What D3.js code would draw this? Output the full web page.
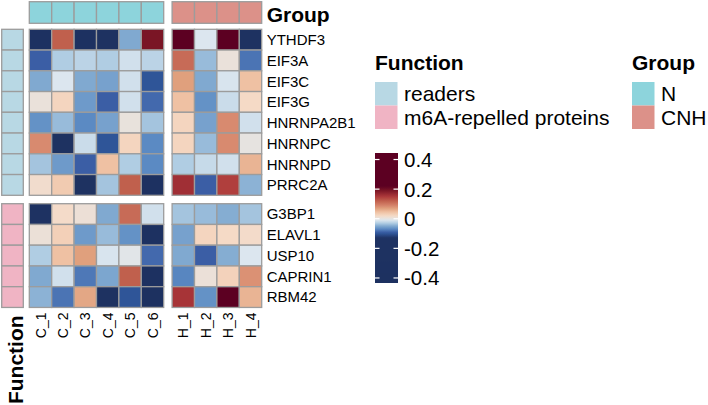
<!DOCTYPE html>
<html>
<head>
<meta charset="utf-8">
<script src="https://cdn.jsdelivr.net/npm/d3@7"></script>
<style>
  body { margin: 0; background: #fff; }
  svg { display: block; font-family: Arial, "Liberation Sans", sans-serif; }
</style>
</head>
<body>
<svg id="chart" width="708" height="405"></svg>
<script>
// samples (columns) and their group
const colsN = ['C_1', 'C_2', 'C_3', 'C_4', 'C_5', 'C_6'];
const colsCNH = ['H_1', 'H_2', 'H_3', 'H_4'];
const groups = ['N', 'CNH'];

// genes (rows) and their function
const rowsReaders = ['YTHDF3', 'EIF3A', 'EIF3C', 'EIF3G', 'HNRNPA2B1', 'HNRNPC', 'HNRNPD', 'PRRC2A'];
const rowsRepelled = ['G3BP1', 'ELAVL1', 'USP10', 'CAPRIN1', 'RBM42'];
const functions = ['readers', 'm6A-repelled proteins'];

// values, one array per gene, columns C_1..C_6, H_1..H_4
const YTHDF3    = [-0.32, 0.12, -0.30, -0.28, -0.05, 0.19, 0.38, -0.01, 0.40, -0.22];
const EIF3A     = [-0.09, -0.03, -0.025, -0.03, -0.015, -0.025, 0.11, -0.04, 0.005, -0.08];
const EIF3C     = [-0.05, -0.01, -0.05, -0.055, -0.015, -0.10, 0.07, -0.05, -0.012, 0.045];
const EIF3G     = [0.005, 0.025, -0.06, -0.09, -0.015, -0.085, 0.045, -0.065, -0.018, 0.02];
const HNRNPA2B1 = [-0.065, -0.04, -0.07, -0.055, 0.003, -0.035, 0.025, -0.055, 0.085, -0.015];
const HNRNPC    = [0.085, -0.27, -0.018, -0.10, 0.025, -0.07, 0.025, -0.04, 0.085, 0.0];
const HNRNPD    = [-0.035, -0.06, -0.09, 0.045, -0.03, -0.07, -0.03, -0.02, -0.015, 0.055];
const PRRC2A    = [0.015, 0.035, -0.25, -0.035, 0.12, -0.30, 0.16, -0.09, 0.145, -0.045];
const G3BP1     = [-0.20, 0.018, 0.008, -0.05, 0.11, -0.015, -0.035, -0.04, -0.048, -0.035];
const ELAVL1    = [0.007, 0.03, -0.06, -0.04, -0.065, -0.35, -0.055, 0.025, 0.02, 0.017];
const USP10     = [-0.03, 0.045, 0.07, -0.012, -0.005, -0.085, -0.05, -0.09, -0.048, -0.01];
const CAPRIN1   = [-0.05, -0.015, -0.078, -0.052, 0.12, -0.30, -0.072, 0.006, 0.028, 0.08];
const RBM42     = [-0.045, -0.08, 0.065, -0.28, -0.10, -0.40, 0.155, -0.065, 0.42, 0.055];

const legendTicks = [0.4, 0.2, 0, -0.2, -0.4];

const values = { YTHDF3, EIF3A, EIF3C, EIF3G, HNRNPA2B1, HNRNPC, HNRNPD, PRRC2A,
                 G3BP1, ELAVL1, USP10, CAPRIN1, RBM42 };
const allCols = colsN.concat(colsCNH);

const svg = d3.select('#chart');
const border = '#9c9c9c';

// colour ramp (pheatmap style, saturates early)
const colour = d3.scaleLinear()
  .domain([-0.45, -0.13, -0.10, -0.09, -0.07, -0.05, -0.03, -0.01, 0, 0.02, 0.045, 0.07, 0.09, 0.12, 0.15, 0.19, 0.22, 0.45])
  .range(['#1d3160', '#1e3262', '#2f5598', '#3b5ea5', '#5b8ac3', '#80a9d0', '#b0cde3', '#dce6ef', '#e6e3e0',
          '#f5dac6', '#efc1a3', '#e0a07d', '#d5826a', '#c0604d', '#ad383a', '#7a1525', '#5c0022', '#5c0022'])
  .clamp(true);

const groupColour = d3.scaleOrdinal().domain(groups).range(['#8dd4dc', '#dc9189']);
const funcColour = d3.scaleOrdinal().domain(functions).range(['#b8d8e4', '#f0b4c4']);

// layout
const cw = 22.4, ch = 20.75, gap = 8.4;
const x0 = 29.3, y0 = 29.3;

const xN = d3.scaleBand().domain(colsN).range([x0, x0 + colsN.length * cw]);
const xH = d3.scaleBand().domain(colsCNH).range([xN.range()[1] + gap, xN.range()[1] + gap + colsCNH.length * cw]);
const yR = d3.scaleBand().domain(rowsReaders).range([y0, y0 + rowsReaders.length * ch]);
const yM = d3.scaleBand().domain(rowsRepelled).range([yR.range()[1] + gap, yR.range()[1] + gap + rowsRepelled.length * ch]);

const xPos = c => colsN.includes(c) ? xN(c) : xH(c);
const yPos = r => rowsReaders.includes(r) ? yR(r) : yM(r);
const colGroup = c => colsN.includes(c) ? 'N' : 'CNH';
const rowFunc = r => rowsReaders.includes(r) ? 'readers' : 'm6A-repelled proteins';

const rows = rowsReaders.concat(rowsRepelled);
const cells = [];
rows.forEach(r => allCols.forEach((c, i) => cells.push({ r, c, v: values[r][i] })));

// heatmap cells
svg.append('g').selectAll('rect').data(cells).enter().append('rect')
  .attr('x', d => xPos(d.c))
  .attr('y', d => yPos(d.r))
  .attr('width', cw)
  .attr('height', ch)
  .attr('fill', d => colour(d.v))
  .attr('stroke', border)
  .attr('stroke-width', 1.3);

// column annotation (Group)
svg.append('g').selectAll('rect').data(allCols).enter().append('rect')
  .attr('x', d => xPos(d))
  .attr('y', 1.7)
  .attr('width', cw)
  .attr('height', 21.6)
  .attr('fill', d => groupColour(colGroup(d)))
  .attr('stroke', border)
  .attr('stroke-width', 1.3);

// row annotation (Function)
svg.append('g').selectAll('rect').data(rows).enter().append('rect')
  .attr('x', 1.7)
  .attr('y', d => yPos(d))
  .attr('width', 21.6)
  .attr('height', ch)
  .attr('fill', d => funcColour(rowFunc(d)))
  .attr('stroke', border)
  .attr('stroke-width', 1.3);

const xEnd = xH.range()[1];
const yEnd = yM.range()[1];

// row labels
svg.append('g').selectAll('text').data(rows).enter().append('text')
  .attr('x', xEnd + 5)
  .attr('y', d => yPos(d) + ch / 2)
  .attr('dy', '0.36em')
  .attr('font-size', 15)
  .text(d => d);

// column labels
svg.append('g').selectAll('text').data(allCols).enter().append('text')
  .attr('transform', d => `translate(${xPos(d) + cw / 2},${yEnd + 5}) rotate(-90)`)
  .attr('dy', '0.36em')
  .attr('text-anchor', 'end')
  .attr('font-size', 14)
  .text(d => d);

// annotation names
svg.append('text')
  .attr('x', xEnd + 5).attr('y', 21.5)
  .attr('font-size', 21).attr('font-weight', 'bold')
  .text('Group');
svg.append('text')
  .attr('transform', `translate(22.5,${yEnd + 8}) rotate(-90)`)
  .attr('text-anchor', 'end')
  .attr('font-size', 21).attr('font-weight', 'bold')
  .text('Function');

// discrete legends
const discreteLegend = (x, title, keys, scale) => {
  const g = svg.append('g').attr('transform', `translate(${x},0)`);
  g.append('text').attr('y', 70).attr('font-size', 21).attr('font-weight', 'bold').text(title);
  g.selectAll('rect').data(keys).enter().append('rect')
    .attr('y', (d, i) => 82 + i * 23.5)
    .attr('width', 22.5).attr('height', 23.5)
    .attr('fill', d => scale(d));
  g.selectAll('text.item').data(keys).enter().append('text')
    .attr('class', 'item')
    .attr('x', 29)
    .attr('y', (d, i) => 82 + i * 23.5 + 11.75)
    .attr('dy', '0.36em')
    .attr('font-size', 21)
    .text(d => d);
};
discreteLegend(375, 'Function', functions, funcColour);
discreteLegend(632, 'Group', groups, groupColour);

// colour bar legend
const barX = 375, barW = 23;
const barScale = d3.scaleLinear().domain([0.444, -0.434]).range([153, 283]);
const defs = svg.append('defs');
const grad = defs.append('linearGradient').attr('id', 'bar')
  .attr('x1', 0).attr('y1', 0).attr('x2', 0).attr('y2', 1);
d3.range(0, 1.0001, 0.01).forEach(t => {
  grad.append('stop')
    .attr('offset', t)
    .attr('stop-color', colour(barScale.invert(153 + t * 130)));
});
svg.append('rect')
  .attr('x', barX).attr('y', 153)
  .attr('width', barW).attr('height', 130)
  .attr('fill', 'url(#bar)');
const tg = svg.append('g').selectAll('g').data(legendTicks).enter().append('g')
  .attr('transform', d => `translate(0,${barScale(d)})`);
tg.append('line').attr('x1', barX).attr('x2', barX + 4.5).attr('stroke', '#fff').attr('stroke-width', 1.2);
tg.append('line').attr('x1', barX + barW - 4.5).attr('x2', barX + barW).attr('stroke', '#fff').attr('stroke-width', 1.2);
tg.append('text')
  .attr('x', barX + barW + 6)
  .attr('dy', '0.36em')
  .attr('font-size', 20.5)
  .text(d => d);
</script>
</body>
</html>
